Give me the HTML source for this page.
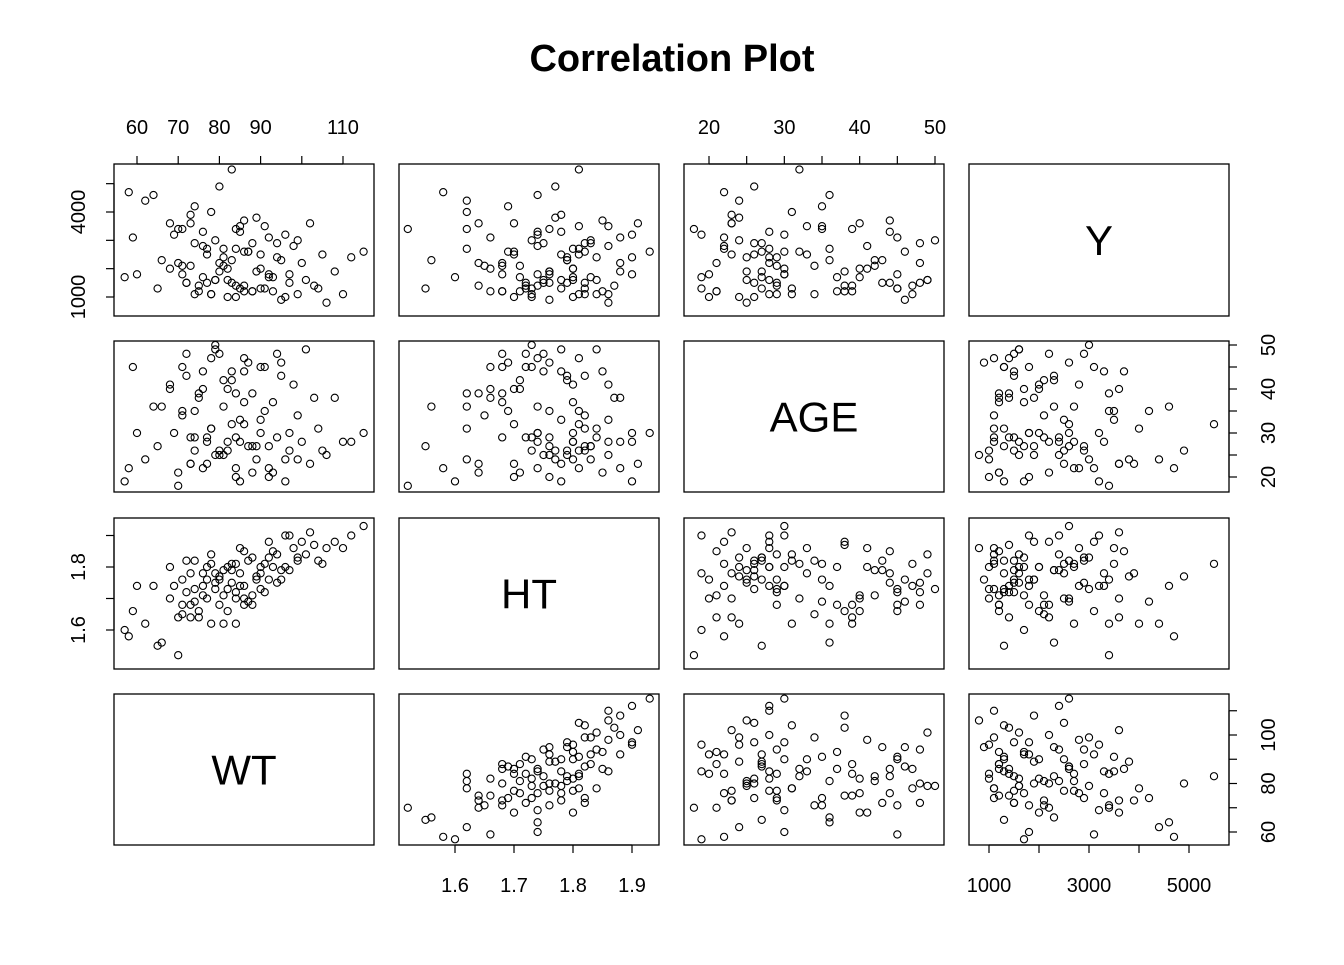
<!DOCTYPE html>
<html><head><meta charset="utf-8"><style>
body{margin:0;background:#fff}
svg text{font-family:"Liberation Sans",Arial,sans-serif;fill:#000}
</style></head><body>
<svg id="chart" width="1344" height="960" viewBox="0 0 1344 960" xmlns="http://www.w3.org/2000/svg">
<rect width="1344" height="960" fill="#fff"/>
<text x="672" y="71" font-size="38" font-weight="bold" text-anchor="middle">Correlation Plot</text>
<g id="g"></g>
</svg>
<script>
const varNames = ["WT","HT","AGE","Y"];
const wt = [62,58,59,60,57,65,68,70,71,72, 73,74,75,76,77,78,79,80,81,82, 83,84,85,86,87,88,89,90,91,92, 93,94,95,96,97,98,99,100,101,102, 104,106,108,112,115,70,72,74,76,78, 80,82,84,86,88,90,92,94,96,66, 69,71,73,75,77,79,81,83,85,87, 89,91,93,95,97,99,103,105,68,74, 79,84,86,85,83,81,78,76,73,71, 88,90,92,86,84,82,80,77,64,110];
const ht = [1.62,1.58,1.66,1.74,1.60,1.55,1.70,1.64,1.76,1.72, 1.68,1.82,1.66,1.78,1.70,1.84,1.73,1.76,1.62,1.80, 1.79,1.70,1.86,1.74,1.82,1.68,1.77,1.80,1.72,1.88, 1.80,1.84,1.76,1.90,1.79,1.86,1.82,1.88,1.84,1.91, 1.82,1.86,1.88,1.90,1.93,1.52,1.82,1.69,1.74,1.81, 1.77,1.66,1.72,1.85,1.71,1.78,1.83,1.75,1.80,1.56, 1.74,1.68,1.78,1.64,1.80,1.75,1.71,1.81,1.78,1.69, 1.76,1.81,1.85,1.79,1.90,1.83,1.87,1.81,1.80,1.73, 1.78,1.81,1.68,1.74,1.75,1.79,1.62,1.71,1.64,1.65, 1.83,1.73,1.76,1.70,1.62,1.73,1.68,1.76,1.74,1.86];
const age = [24,22,45,30,19,27,40,21,35,48, 29,26,38,44,23,31,50,25,36,28, 42,20,33,47,27,39,24,30,45,22, 37,29,46,19,26,41,34,28,49,23, 31,25,38,28,30,18,43,35,22,47, 26,40,29,44,21,33,27,48,24,36, 30,45,23,39,28,25,42,32,19,46, 27,35,21,43,30,24,38,26,41,29, 49,22,37,28,44,25,31,40,23,34, 27,45,20,32,39,26,48,29,36,28];
const yv = [4400,4700,3100,1800,1700,1300,3600,2200,3400,1500, 2100,2900,1200,3300,2500,1100,3000,1900,2700,1600, 2300,1000,3500,1400,2600,1200,3800,2000,1300,3100, 1700,2400,900,3200,1500,2800,1100,2200,1600,3600, 1300,800,1900,2400,2600,3400,1500,4200,2800,1100, 4900,2000,1400,3700,1200,2500,1700,2900,1000,2300, 3200,1800,3900,1400,2700,1600,2100,5500,1300,2600, 1900,3500,1200,2300,1800,3000,1400,2500,2000,1100, 1600,2700,1200,3300,1500,2400,4000,1700,3600,2100, 2900,1300,1800,2600,3400,1000,2200,1500,4600,1100];
const wtTicks=[60,70,80,90,100,110], wtTopLabels=["60","70","80","90","","110"], wtRightLabels=["60","","80","","100",""];
const htTicks=[1.6,1.7,1.8,1.9], htBottomLabels=["1.6","1.7","1.8","1.9"], htLeftLabels=["1.6","","1.8",""];
const ageTicks=[20,25,30,35,40,45,50], ageLabels=["20","","30","","40","","50"];
const yTicks=[1000,2000,3000,4000,5000], yBottomLabels=["1000","","3000","","5000"], yLeftLabels=["1000","","","4000",""];

const data=[wt,ht,age,yv];
const colX=[[114,374],[399,659],[684,944],[969,1229]];
const rowY=[[164,316],[341,492],[518,669],[694,845]];
const rowVar=[3,2,1,0];
const xs=[v=>137+(v-60)*(343-137)/50, v=>455+(v-1.6)*(632-455)/0.3, v=>709+(v-20)*(935-709)/30, v=>989+(v-1000)*(1189-989)/4000];
const ysByVar=[v=>832+(v-60)*(735-832)/40, v=>630+(v-1.6)*(567-630)/0.2, v=>477+(v-20)*(345-477)/30, v=>297+(v-1000)*(212-297)/3000];
const NS="http://www.w3.org/2000/svg";
const g=document.getElementById('g');
function mk(t,a,p){const e=document.createElementNS(NS,t);for(const k in a)e.setAttribute(k,a[k]);(p||g).appendChild(e);return e;}
for(let r=0;r<4;r++){for(let c=0;c<4;c++){
  const [x0,x1]=colX[c],[y0,y1]=rowY[r];
  const panel=mk('g',{});
  
  
  const rect=mk('rect',{x:x0,y:y0,width:x1-x0,height:y1-y0,fill:'none',stroke:'#000','stroke-width':1.3},panel);
  
  
  const vy=rowVar[r];
  if(vy===c){
    const t=mk('text',{x:(x0+x1)/2,y:(y0+y1)/2+15,'font-size':42,'text-anchor':'middle'},panel);
    t.textContent=varNames[c];
    
    
    continue;
  }
  const xd=data[c], yd=data[vy];
  for(let i=0;i<xd.length;i++){
    const p=mk('circle',{cx:xs[c](xd[i]),cy:ysByVar[vy](yd[i])-rowY[3-vy][0]+y0,r:3.6,fill:'none',stroke:'#000','stroke-width':1.1},panel);
    
    
  }
}}
function axis(name,side,ticks,labels,f,pos){
  const a=mk('g',{});
  
  
  const ps=ticks.map(f);
  const L=8;
  if(side==='top'||side==='bottom'){
    const d=side==='top'?-1:1;
    mk('line',{x1:ps[0],x2:ps[ps.length-1],y1:pos,y2:pos,stroke:'#000','stroke-width':1.2},a);
    ps.forEach((p,i)=>{mk('line',{x1:p,x2:p,y1:pos,y2:pos+d*L,stroke:'#000','stroke-width':1.2},a);
      if(labels[i]){const t=mk('text',{x:p,y:side==='top'?pos-30:pos+47,'font-size':20,'text-anchor':'middle'},a);t.textContent=labels[i];}});
  } else {
    const d=side==='left'?-1:1;
    mk('line',{y1:ps[0],y2:ps[ps.length-1],x1:pos,x2:pos,stroke:'#000','stroke-width':1.2},a);
    ps.forEach((p,i)=>{mk('line',{y1:p,y2:p,x1:pos,x2:pos+d*L,stroke:'#000','stroke-width':1.2},a);
      if(labels[i]){const tx=side==='left'?pos-29:pos+46;const t=mk('text',{x:tx,y:p,'font-size':20,'text-anchor':'middle',transform:'rotate(-90 '+tx+' '+p+')'},a);t.textContent=labels[i];}});
  }
}
axis('wt-top-axis','top',wtTicks,wtTopLabels,xs[0],164);
axis('age-top-axis','top',ageTicks,ageLabels,xs[2],164);
axis('ht-bottom-axis','bottom',htTicks,htBottomLabels,xs[1],845);
axis('y-bottom-axis','bottom',yTicks,yBottomLabels,xs[3],845);
axis('y-left-axis','left',yTicks,yLeftLabels,ysByVar[3],114);
axis('ht-left-axis','left',htTicks,htLeftLabels,ysByVar[1],114);
axis('age-right-axis','right',ageTicks,ageLabels,ysByVar[2],1229);
axis('wt-right-axis','right',wtTicks,wtRightLabels,ysByVar[0],1229);
</script>
</body></html>
